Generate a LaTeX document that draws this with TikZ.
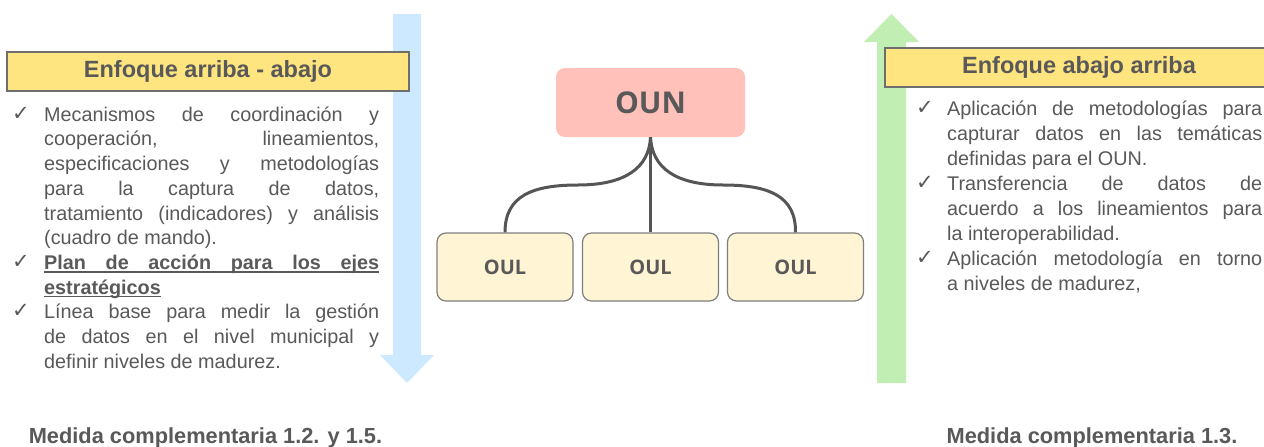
\documentclass[tikz,border=0pt]{standalone}
\usepackage{fontspec}
\setmainfont{Liberation Sans}
\newfontfamily\symf{DejaVu Sans}
\newfontfamily\treef{Open Sans}
\definecolor{txt}{HTML}{595959}
\definecolor{hdrfill}{HTML}{FFE57F}
\definecolor{hdrline}{HTML}{6E6E6E}
\definecolor{arrblue}{HTML}{CCE9FF}
\definecolor{arrgreen}{HTML}{C1EEB2}
\definecolor{ounfill}{HTML}{FFC1B9}
\definecolor{oulfill}{HTML}{FFF4D4}
\definecolor{oulline}{HTML}{7F7F7F}
\definecolor{conncol}{HTML}{555555}
\newcommand{\jl}[2]{\makebox[#1][s]{#2}}
\newcommand{\myul}[1]{\leavevmode\setbox0=\hbox{#1}\rlap{\rule[-3.2pt]{\wd0}{1.4pt}}\box0}
\begin{document}
\begin{tikzpicture}[x=1pt,y=-1pt,
  hdr/.style={draw=hdrline,line width=1.6pt,fill=hdrfill,text=txt,font=\fontsize{23.5}{26}\selectfont\bfseries,inner sep=0pt},
  body/.style={text=txt,font=\fontsize{19.8}{24.7}\selectfont,inner sep=0pt,anchor=north west,align=left},
  tick/.style={text=txt,font=\symf\fontsize{21}{24}\selectfont,inner sep=0pt,anchor=base},
  ounbox/.style={fill=ounfill,rounded corners=9pt,minimum width=189pt,minimum height=69pt,text=txt,font=\treef\fontsize{30}{34}\selectfont\bfseries},
  oulbox/.style={fill=oulfill,draw=oulline,line width=1.2pt,rounded corners=9pt,minimum width=136pt,minimum height=68pt,text=txt,font=\treef\fontsize{20}{24}\selectfont\bfseries},
  conn/.style={draw=conncol,line width=3pt},
  foot/.style={text=txt,font=\fontsize{21.8}{24}\selectfont\bfseries,inner sep=0pt,anchor=base}]
\useasboundingbox (0,0) rectangle (1264,447);
\fill[white] (0,0) rectangle (1264,447);
% vertical arrows
\fill[arrblue] (393,14) -- (421,14) -- (421,355) -- (434,355) -- (407,383) -- (380,355) -- (393,355) -- cycle;
\fill[arrgreen] (877,383) -- (906,383) -- (906,42) -- (919,42) -- (891.5,14) -- (864,42) -- (877,42) -- cycle;
% headers
\node[hdr,minimum width=402pt,minimum height=39pt] (h1) at (208,71.5) {Enfoque arriba - abajo};
\node[hdr,minimum width=388pt,minimum height=39pt] (h2) at (1079,67.5) {Enfoque abajo arriba};
% left text
\node[body] (lt) at (44,105) {\rule{0pt}{16pt}\jl{335pt}{Mecanismos de coordinación y}\\
\jl{335pt}{cooperación, lineamientos,}\\
\jl{335pt}{especificaciones y metodologías}\\
\jl{335pt}{para la captura de datos,}\\
\jl{335pt}{tratamiento (indicadores) y análisis}\\
(cuadro de mando).\\
\myul{\jl{335pt}{\bfseries Plan de acción para los ejes}}\\
\myul{\bfseries estratégicos}\\
\jl{335pt}{Línea base para medir la gestión}\\
\jl{335pt}{de datos en el nivel municipal y}\\
definir niveles de madurez.};
\node[tick] (lc1) at (21,120) {✓};
\node[tick] (lc2) at (21,268.2) {✓};
\node[tick] (lc3) at (21,317.6) {✓};
% right text
\node[body,font=\fontsize{19.8}{25}\selectfont] (rt) at (947,99) {\rule{0pt}{16pt}\jl{315pt}{Aplicación de metodologías para}\\
\jl{315pt}{capturar datos en las temáticas}\\
definidas para el OUN.\\
\jl{315pt}{Transferencia de datos de}\\
\jl{315pt}{acuerdo a los lineamientos para}\\
la interoperabilidad.\\
\jl{315pt}{Aplicación metodología en torno}\\
a niveles de madurez,};
\node[tick] (rc1) at (925,114) {✓};
\node[tick] (rc2) at (925,189) {✓};
\node[tick] (rc3) at (925,264) {✓};
% tree
\node[ounbox] (oun) at (650.5,102.5) {OUN};
\node[oulbox] (oul1) at (505,267) {OUL};
\node[oulbox] (oul2) at (650.5,267) {OUL};
\node[oulbox] (oul3) at (795.5,267) {OUL};
\draw[conn] (oun.south) .. controls (649,168) and (625,185) .. (578,185) .. controls (532,185) and (505,196) .. (oul1.north);
\draw[conn] (oun.south) -- (oul2.north);
\draw[conn] (oun.south) .. controls (652,168) and (676,185) .. (723,185) .. controls (769,185) and (796,196) .. (oul3.north);
% footers
\node[foot] (f1) at (205.5,443) {Medida complementaria 1.2. y 1.5.};
\node[foot] (f2) at (1092,443) {Medida complementaria 1.3.};
\end{tikzpicture}
\end{document}
